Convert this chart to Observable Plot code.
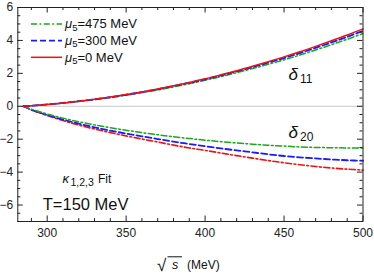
<!DOCTYPE html>
<html><head><meta charset="utf-8">
<script src="https://cdn.jsdelivr.net/npm/d3@7"></script>
<script src="https://cdn.jsdelivr.net/npm/@observablehq/plot@0.6"></script>
<style>
body{margin:0;background:#fff;}
#chart{width:374px;height:278px;}
</style></head><body><div id="chart"></div>
<script>
// sqrt(s) grid in MeV
const sqrtS = [285,290,300,310,320,330,340,350,360,370,380,390,400,410,420,430,440,450,460,470,480,490,500];
// delta_11 (upper branch)
const d11_mu0   = [0,0.03,0.11,0.20,0.31,0.43,0.56,0.71,0.87,1.05,1.25,1.45,1.67,1.91,2.16,2.43,2.71,3.00,3.31,3.64,3.98,4.33,4.70];
const d11_mu300 = [0,0.03,0.11,0.20,0.31,0.42,0.55,0.70,0.86,1.03,1.23,1.43,1.64,1.87,2.12,2.38,2.65,2.93,3.23,3.55,3.88,4.22,4.58];
const d11_mu475 = [0,0.03,0.10,0.19,0.29,0.41,0.53,0.67,0.83,0.99,1.18,1.37,1.58,1.80,2.04,2.29,2.55,2.82,3.11,3.42,3.74,4.07,4.42];
// delta_20 (lower branch)
const d20_mu0   = [0,-0.22,-0.56,-0.87,-1.14,-1.38,-1.60,-1.80,-1.99,-2.17,-2.36,-2.53,-2.68,-2.84,-3.00,-3.15,-3.30,-3.43,-3.55,-3.66,-3.75,-3.82,-3.88];
const d20_mu300 = [0,-0.21,-0.53,-0.81,-1.06,-1.28,-1.48,-1.66,-1.83,-1.99,-2.15,-2.29,-2.43,-2.56,-2.68,-2.80,-2.92,-3.02,-3.10,-3.17,-3.23,-3.28,-3.31];
const d20_mu475 = [0,-0.18,-0.47,-0.72,-0.94,-1.13,-1.30,-1.46,-1.60,-1.73,-1.85,-1.96,-2.06,-2.15,-2.23,-2.30,-2.37,-2.42,-2.47,-2.50,-2.52,-2.53,-2.53];

const xTicks = [300,350,400,450,500];
const xMinor = [290,310,320,330,340,360,370,380,390,410,420,430,440,460,470,480,490];
const yTicks = [-6,-4,-2,0,2,4,6];
const yMinor = d3.range(-7,6.01,0.5).filter(v=>v%2!==0);

const legendLabels = ["475","300","0"];

// annotation positions (data coordinates)
const annMain = [
  {x:452.8, y:1.58, t:"δ", sub:"11"},
  {x:452.8, y:-1.94, t:"δ", sub:"20"}
];

const toRows = arr => sqrtS.map((s,i)=>({s, v:arr[i]}));

const W=374,H=278, mL=17.3, mR=11.5, mT=7, mB=57;
const pH = H-mT-mB, pW = W-mL-mR;
const font = "'Liberation Sans', Arial, sans-serif";
const cG="#18a818", cB="#1a1aff", cR="#ee1111";
const curve="catmull-rom";

const chart = Plot.plot({
  width:W, height:H, marginLeft:mL, marginRight:mR, marginTop:mT, marginBottom:mB,
  style:{fontFamily:font, fontSize:"12px", color:"#222", background:"#fff"},
  x:{domain:[281.4,500]},
  y:{domain:[-7,6]},
  marks:[
    Plot.ruleY([0],{stroke:"#c8c8c8", strokeWidth:1}),
    Plot.line(toRows(d20_mu0),{x:"s",y:"v",stroke:cR,strokeWidth:1.6,strokeDasharray:"6,2.5,1.8,2.5",curve}),
    Plot.line(toRows(d20_mu300),{x:"s",y:"v",stroke:cB,strokeWidth:1.8,strokeDasharray:"6,3",curve}),
    Plot.line(toRows(d20_mu475),{x:"s",y:"v",stroke:cG,strokeWidth:1.5,strokeDasharray:"6,2.5,1.8,2.5",curve}),
    Plot.line(toRows(d11_mu475),{x:"s",y:"v",stroke:cG,strokeWidth:1.5,strokeDasharray:"6,2.5,1.8,2.5",curve}),
    Plot.line(toRows(d11_mu300),{x:"s",y:"v",stroke:cB,strokeWidth:1.8,strokeDasharray:"6,3",curve}),
    Plot.line(toRows(d11_mu0),{x:"s",y:"v",stroke:cR,strokeWidth:1.5,curve}),
    // inward ticks on all four sides
    Plot.ruleX(xTicks,{x:d=>d, insetTop:pH-5.5, stroke:"#222"}),
    Plot.ruleX(xTicks,{x:d=>d, insetBottom:pH-5.5, stroke:"#222"}),
    Plot.ruleX(xMinor,{x:d=>d, insetTop:pH-3, stroke:"#222"}),
    Plot.ruleX(xMinor,{x:d=>d, insetBottom:pH-3, stroke:"#222"}),
    Plot.ruleY(yTicks,{y:d=>d, insetRight:pW-5.5, stroke:"#222"}),
    Plot.ruleY(yTicks,{y:d=>d, insetLeft:pW-5.5, stroke:"#222"}),
    Plot.ruleY(yMinor,{y:d=>d, insetRight:pW-3, stroke:"#222"}),
    Plot.ruleY(yMinor,{y:d=>d, insetLeft:pW-3, stroke:"#222"}),
    Plot.frame({stroke:"#222", strokeWidth:1}),
    Plot.axisX({ticks:xTicks, tickSize:0, tickPadding:7, label:null, fontSize:12}),
    Plot.axisY({ticks:yTicks, tickSize:0, tickPadding:4.5, label:null, fontSize:12}),
    // annotations
    Plot.text(annMain,{x:"x",y:"y",text:"t",fontSize:17,fontStyle:"italic",textAnchor:"start",lineAnchor:"bottom",fill:"#111"}),
    Plot.text(annMain,{x:"x",y:"y",text:"sub",fontSize:12,dx:11.5,dy:3,textAnchor:"start",lineAnchor:"bottom",fill:"#111"}),
    Plot.text([{x:309.7,y:-4.67}],{x:"x",y:"y",text:()=>"κ",fontSize:13,fontStyle:"italic",textAnchor:"start",lineAnchor:"bottom",fill:"#111"}),
    Plot.text([{x:309.7,y:-4.67}],{x:"x",y:"y",text:()=>"1,2,3",fontSize:10.5,dx:8,dy:2.5,textAnchor:"start",lineAnchor:"bottom",fill:"#111"}),
    Plot.text([{x:309.7,y:-4.67}],{x:"x",y:"y",text:()=>"Fit",fontSize:12,dx:35.5,textAnchor:"start",lineAnchor:"bottom",fill:"#111"}),
    Plot.text([{x:297.2,y:-6.3}],{x:"x",y:"y",text:()=>"T=150 MeV",fontSize:16.5,textAnchor:"start",lineAnchor:"bottom",fill:"#111"})
  ]
});
document.getElementById("chart").appendChild(chart);

// Legend (inside the frame, top-left) and x-axis title
const svg = d3.select(chart);
const leg = [
  {c:cG, dash:"6,2.5,1.8,2.5", w:1.5, lab:legendLabels[0], ly:24, by:28.3},
  {c:cB, dash:"6,3", w:1.8, lab:legendLabels[1], ly:40.7, by:44.9},
  {c:cR, dash:null, w:1.5, lab:legendLabels[2], ly:57.3, by:61.5}
];
const g = svg.append("g").attr("font-family",font).attr("fill","#111").attr("text-anchor","start");
leg.forEach(d=>{
  g.append("line").attr("x1",31).attr("x2",62).attr("y1",d.ly).attr("y2",d.ly)
    .attr("stroke",d.c).attr("stroke-width",d.w).attr("stroke-dasharray",d.dash);
  const t = g.append("text").attr("x",65).attr("y",d.by).attr("font-size",13).attr("text-anchor","start");
  t.append("tspan").attr("font-style","italic").text("μ");
  t.append("tspan").attr("font-size",9.5).attr("dy",2.5).text("5");
  t.append("tspan").attr("dy",-2.5).text("="+d.lab+" MeV");
});
// x title: sqrt(s) (MeV)
const xt = svg.append("g").attr("font-family",font).attr("fill","#111").attr("text-anchor","start");
xt.append("text").attr("x",157).attr("y",271).attr("font-size",17).text("√");
xt.append("line").attr("x1",167.5).attr("x2",182).attr("y1",256.8).attr("y2",256.8).attr("stroke","#111").attr("stroke-width",1);
xt.append("text").attr("x",172).attr("y",269).attr("font-size",12.5).attr("font-style","italic").text("s");
xt.append("text").attr("x",187).attr("y",269).attr("font-size",12).text("(MeV)");
</script>
</body></html>
